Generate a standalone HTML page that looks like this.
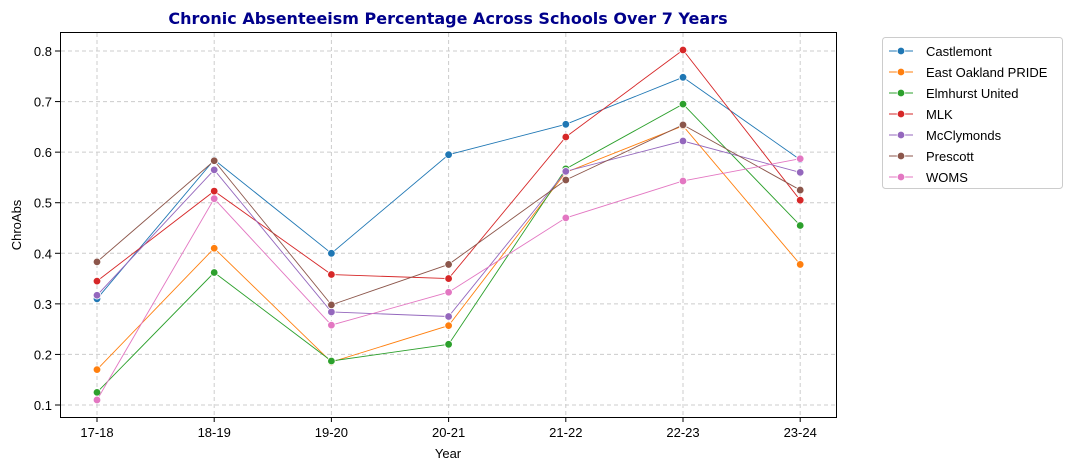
<!DOCTYPE html><html><head><style>body{margin:0;background:#fff}svg{font-family:"Liberation Sans","DejaVu Sans",sans-serif}</style></head><body>
<svg id="s" width="1079" height="470" xmlns="http://www.w3.org/2000/svg">
<text x="448" y="24" text-anchor="middle" font-size="16" font-weight="bold" fill="#00008b" font-family="DejaVu Sans, sans-serif">Chronic Absenteeism Percentage Across Schools Over 7 Years</text>
<g id="g"></g>
<rect x="60.5" y="32.5" width="776" height="385" fill="none" stroke="#000" stroke-width="1"/>
<text x="448" y="458" text-anchor="middle" font-size="13">Year</text>
<text transform="translate(21,225) rotate(-90)" text-anchor="middle" font-size="13">ChroAbs</text>
<rect x="882.5" y="37.5" width="180" height="151" rx="3" fill="#fff" stroke="#ccc"/>
<g id="l"></g>
</svg>
<script>
const g=document.getElementById('g'),L=document.getElementById('l'),ns='http://www.w3.org/2000/svg';
function el(p,t,a,tx){const e=document.createElementNS(ns,t);for(const k in a)e.setAttribute(k,a[k]);if(tx)e.textContent=tx;p.appendChild(e);return e;}
const X=i=>97+i*117.2,Y=v=>405-(v-0.1)*505.7;
const yrs=['17-18','18-19','19-20','20-21','21-22','22-23','23-24'];
yrs.forEach((t,i)=>{el(g,'line',{x1:X(i),x2:X(i),y1:33,y2:417,stroke:'#ccc','stroke-dasharray':'4,3'});el(g,'line',{x1:X(i),x2:X(i),y1:417,y2:422,stroke:'#000'});el(g,'text',{x:X(i),y:437,'text-anchor':'middle','font-size':13},t);});
for(let v=1;v<=8;v++){const y=Y(v/10);el(g,'line',{x1:61,x2:836,y1:y,y2:y,stroke:'#ccc','stroke-dasharray':'4,3'});el(g,'line',{x1:55,x2:60,y1:y,y2:y,stroke:'#000'});el(g,'text',{x:52,y:y+5,'text-anchor':'end','font-size':13},(v/10).toFixed(1));}
const S=[['Castlemont','#1f77b4',[.31,.585,.40,.595,.655,.748,.585]],
['East Oakland PRIDE','#ff7f0e',[.17,.41,.185,.257,.56,.652,.378]],
['Elmhurst United','#2ca02c',[.125,.362,.187,.22,.567,.695,.455]],
['MLK','#d62728',[.345,.523,.358,.35,.63,.802,.505]],
['McClymonds','#9467bd',[.317,.565,.284,.275,.562,.622,.56]],
['Prescott','#8c564b',[.383,.583,.298,.378,.545,.654,.525]],
['WOMS','#e377c2',[.11,.508,.258,.323,.47,.543,.587]]];
S.forEach(([n,c,d],k)=>{el(g,'polyline',{points:d.map((v,i)=>X(i)+','+Y(v)).join(' '),fill:'none',stroke:c,'stroke-width':0.9});
d.forEach((v,i)=>el(g,'circle',{cx:X(i),cy:Y(v),r:3.8,fill:c,stroke:'#fff','stroke-width':0.8}));
const y=51+k*21;el(L,'line',{x1:889,x2:913,y1:y,y2:y,stroke:c,'stroke-width':0.9});el(L,'circle',{cx:901,cy:y,r:3.8,fill:c,stroke:'#fff','stroke-width':0.8});el(L,'text',{x:926,y:y+5,'font-size':13},n);});
</script></body></html>
